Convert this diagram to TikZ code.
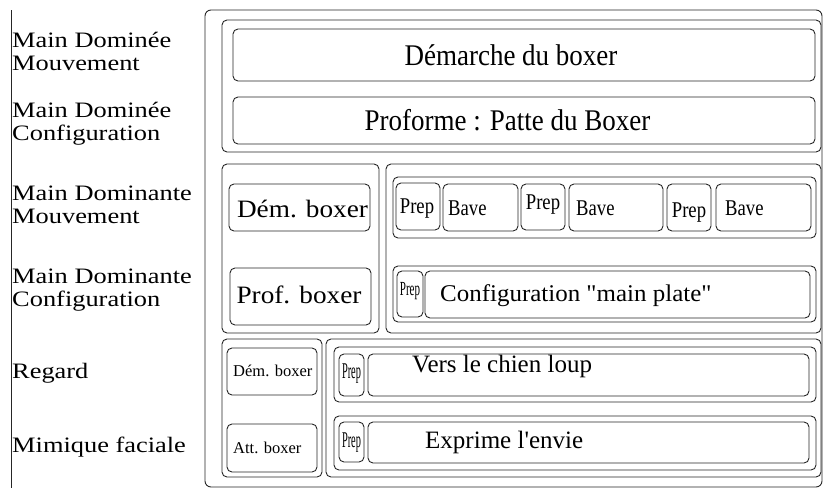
\documentclass[tikz,border=0pt]{standalone}
\usepackage{fontspec}
\setmainfont{Liberation Serif}
\usepackage{graphicx}
\usetikzlibrary{positioning}

% horizontal squeeze / stretch of a text
\newcommand{\wide}[2]{\scalebox{#1}[1]{#2}}

\begin{document}
\begin{tikzpicture}[
    x=1pt, y=-1pt,
    cell/.style={rectangle, draw=black!85, line width=0.9pt, rounded corners=5pt, inner sep=0pt},
    side/.style={anchor=base west, inner sep=0pt, align=left, font=\fontsize{22}{23}\selectfont},
    txt/.style={anchor=base, inner sep=0pt},
    ltxt/.style={anchor=base west, inner sep=0pt}
]
    \useasboundingbox (0,0) rectangle (823,488);

    % left rule and row labels (base = last line)
    \coordinate (ruletop) at (11,10);
    \coordinate (rulebot) at (11,488);
    \draw[draw=black!85, line width=0.9pt] (ruletop) -- (rulebot);
    \node[side] (mdmouv) at (12,70) {\wide{1.2}{Main Dominée}\\\wide{1.2}{Mouvement}};
    \node[side] (mdconf) at (12,140) {\wide{1.2}{Main Dominée}\\\wide{1.2}{Configuration}};
    \node[side] (mdtmouv) at (12,223) {\wide{1.2}{Main Dominante}\\\wide{1.2}{Mouvement}};
    \node[side] (mdtconf) at (12,306) {\wide{1.2}{Main Dominante}\\\wide{1.2}{Configuration}};
    \node[side] (regard) at (12,378) {\wide{1.2}{Regard}};
    \node[side] (mimique) at (12,452) {\wide{1.2}{Mimique faciale}};

    % outer frame
    \node[cell, rounded corners=6pt, minimum width=617, minimum height=477] (outer) at (513.5,248.5) {};

    % main dominee
    \node[cell, minimum width=599, minimum height=132] (mdgroup) at (521.5,86) {};
    \node[cell, minimum width=582, minimum height=52] (dem) at (524,55) {};
    \node[cell, minimum width=582, minimum height=47] (prof) at (524,120.5) {};
    \node[txt, font=\fontsize{30}{32}\selectfont] (demtxt) at (511,65) {\wide{0.9}{Démarche du boxer}};
    \node[txt, font=\fontsize{30}{32}\selectfont] (proftxt) at (507.5,130) {\wide{0.9}{Proforme : Patte du Boxer}};

    % main dominante, left part
    \node[cell, minimum width=157, minimum height=169] (dtleft) at (300.5,248.5) {};
    \node[cell, minimum width=141, minimum height=47] (demb) at (299.5,207.5) {};
    \node[cell, minimum width=141, minimum height=57] (profb) at (300.5,296.5) {};
    \node[txt, font=\fontsize{25}{27}\selectfont] (dembtxt) at (302.5,217) {\wide{1.09}{Dém. boxer}};
    \node[txt, font=\fontsize{25}{27}\selectfont] (profbtxt) at (299,303) {\wide{1.09}{Prof. boxer}};

    % main dominante, right part
    \node[cell, minimum width=435, minimum height=169] (dtright) at (603.5,248.5) {};
    \node[cell, minimum width=423, minimum height=61] (mvrow) at (604.5,207.5) {};
    \node[cell, minimum width=44, minimum height=47] (prep1) at (418,206.5) {};
    \node[cell, minimum width=75, minimum height=47] (bave1) at (480.5,207.5) {};
    \node[cell, minimum width=44, minimum height=46] (prep2) at (543,207) {};
    \node[cell, minimum width=94, minimum height=47] (bave2) at (616,207.5) {};
    \node[cell, minimum width=44, minimum height=47] (prep3) at (689,207.5) {};
    \node[cell, minimum width=95, minimum height=47] (bave3) at (763.5,207.5) {};
    \node[txt, font=\fontsize{22.5}{24}\selectfont] (prep1txt) at (417,213) {\wide{0.83}{Prep}};
    \node[txt, font=\fontsize{22.5}{24}\selectfont] (prep2txt) at (543,209) {\wide{0.83}{Prep}};
    \node[txt, font=\fontsize{22.5}{24}\selectfont] (prep3txt) at (689,217) {\wide{0.83}{Prep}};
    \node[ltxt, font=\fontsize{22.5}{24}\selectfont] (bave1txt) at (448,215) {\wide{0.83}{Bave}};
    \node[ltxt, font=\fontsize{22.5}{24}\selectfont] (bave2txt) at (576,215) {\wide{0.83}{Bave}};
    \node[ltxt, font=\fontsize{22.5}{24}\selectfont] (bave3txt) at (725,215) {\wide{0.83}{Bave}};

    \node[cell, minimum width=423, minimum height=56] (cfrow) at (604.5,294) {};
    \node[cell, minimum width=26, minimum height=46] (prepc) at (410,294) {};
    \node[cell, minimum width=385, minimum height=47] (conf) at (617.5,294.5) {};
    \node[txt, font=\fontsize{20}{22}\selectfont] (prepctxt) at (410,295) {\wide{0.55}{Prep}};
    \node[ltxt, font=\fontsize{24}{26}\selectfont] (conftxt) at (440,301) {\wide{1.04}{Configuration \textquotedbl main plate\textquotedbl}};

    % regard and mimique, left part
    \node[cell, minimum width=100, minimum height=138] (rgleft) at (272,408) {};
    \node[cell, minimum width=90, minimum height=47] (demsm) at (272,371.5) {};
    \node[cell, minimum width=90, minimum height=48] (att) at (272,448) {};
    \node[ltxt, font=\fontsize{16.5}{18}\selectfont] (demsmtxt) at (233,376) {Dém. boxer};
    \node[ltxt, font=\fontsize{16.5}{18}\selectfont] (atttxt) at (233,453) {Att. boxer};

    % regard and mimique, right part
    \node[cell, minimum width=495, minimum height=138] (rgright) at (573.5,408) {};
    \node[cell, minimum width=482, minimum height=55] (rgrow) at (575,374.5) {};
    \node[cell, minimum width=25, minimum height=42] (prepr1) at (351.5,375) {};
    \node[cell, minimum width=441, minimum height=42] (vers) at (588.5,375) {};
    \node[cell, minimum width=482, minimum height=54] (mqrow) at (575,443) {};
    \node[cell, minimum width=25, minimum height=40] (prepr2) at (351.5,442) {};
    \node[cell, minimum width=441, minimum height=41] (expr) at (588.5,442.5) {};
    \node[txt, font=\fontsize{22.5}{24}\selectfont] (prepr1txt) at (351.5,378) {\wide{0.46}{Prep}};
    \node[txt, font=\fontsize{22.5}{24}\selectfont] (prepr2txt) at (351.5,447) {\wide{0.46}{Prep}};
    \node[ltxt, font=\fontsize{25}{27}\selectfont] (verstxt) at (412,372) {Vers le chien loup};
    \node[ltxt, font=\fontsize{25}{27}\selectfont] (exprtxt) at (425,448) {Exprime l\textquotesingle envie};
\end{tikzpicture}
\end{document}
